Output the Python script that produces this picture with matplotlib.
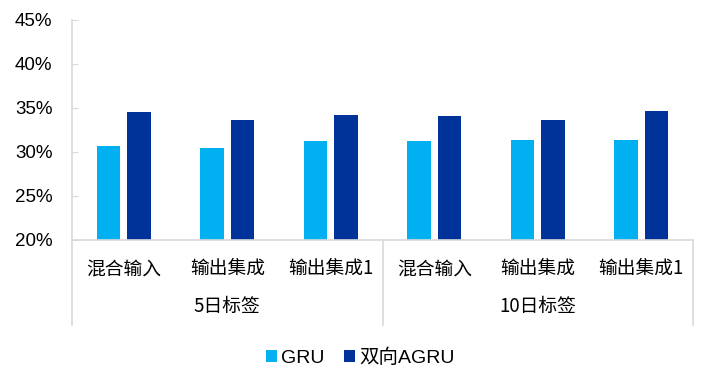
import matplotlib
matplotlib.use("Agg")
import matplotlib.pyplot as plt
import numpy as np
from matplotlib.ticker import FuncFormatter

plt.rcParams['font.family'] = ['Liberation Sans', 'Noto Sans CJK SC', 'DejaVu Sans']

categories = ["混合输入", "输出集成", "输出集成1", "混合输入", "输出集成", "输出集成1"]
groups = ["5日标签", "10日标签"]
gru = [30.7, 30.5, 31.3, 31.25, 31.4, 31.4]
agru = [34.5, 33.6, 34.2, 34.1, 33.6, 34.7]
series_names = ["GRU", "双向AGRU"]
yticks = [20, 25, 30, 35, 40, 45]

c_gru = "#00B0F0"
c_agru = "#003399"
cjk = ['Noto Sans CJK SC', 'DejaVu Sans']

fig = plt.figure(figsize=(7.02, 3.75), dpi=100)
ax = fig.add_axes([72/702, 1-240/375, (693-72)/702, 220/375])

x = np.arange(len(categories))
w = 0.227
ax.bar(x - 0.146, gru, width=w, color=c_gru, label=series_names[0])
ax.bar(x + 0.146, agru, width=w, color=c_agru, label=series_names[1])

ax.set_xlim(-0.5, len(categories) - 0.5)
ax.set_ylim(20, 45)
ax.set_yticks(yticks)
ax.yaxis.set_major_formatter(FuncFormatter(lambda v, p: f"{v:.0f}%"))
ax.tick_params(axis='y', direction='in', length=4, color='#d9d9d9',
               labelsize=13.5, pad=14)
for lab in ax.get_yticklabels():
    lab.set_fontfamily(['Liberation Sans', 'DejaVu Sans'])

ax.set_xticks(x)
ax.set_xticklabels(categories, fontfamily=cjk, fontsize=13.5)
ax.tick_params(axis='x', length=0, pad=13)

for s in ['top', 'right']:
    ax.spines[s].set_visible(False)
for s in ['left', 'bottom']:
    ax.spines[s].set_color('#d9d9d9')
    ax.spines[s].set_linewidth(1.2)

# group separators and labels
depth = (325 - 240) / 220
for xv in [-0.5, 2.5, 5.5]:
    ax.plot([xv, xv], [0, -depth], transform=ax.get_xaxis_transform(),
            color='#d9d9d9', lw=1.2, clip_on=False)
for i, g in enumerate(groups):
    ax.text(1 + 3 * i, -(306.5 - 240) / 220, g, transform=ax.get_xaxis_transform(),
            ha='center', va='center', fontsize=13.5, fontfamily=cjk)

fig.legend(loc='center', bbox_to_anchor=(0.5135, 1 - 358/375), ncol=2, frameon=False,
           handlelength=0.57, handleheight=0.57, handletextpad=0.2, columnspacing=1.0,
           prop={'family': ['Liberation Sans', 'Noto Sans CJK SC'], 'size': 14})

fig.savefig("out.png", dpi=100)
